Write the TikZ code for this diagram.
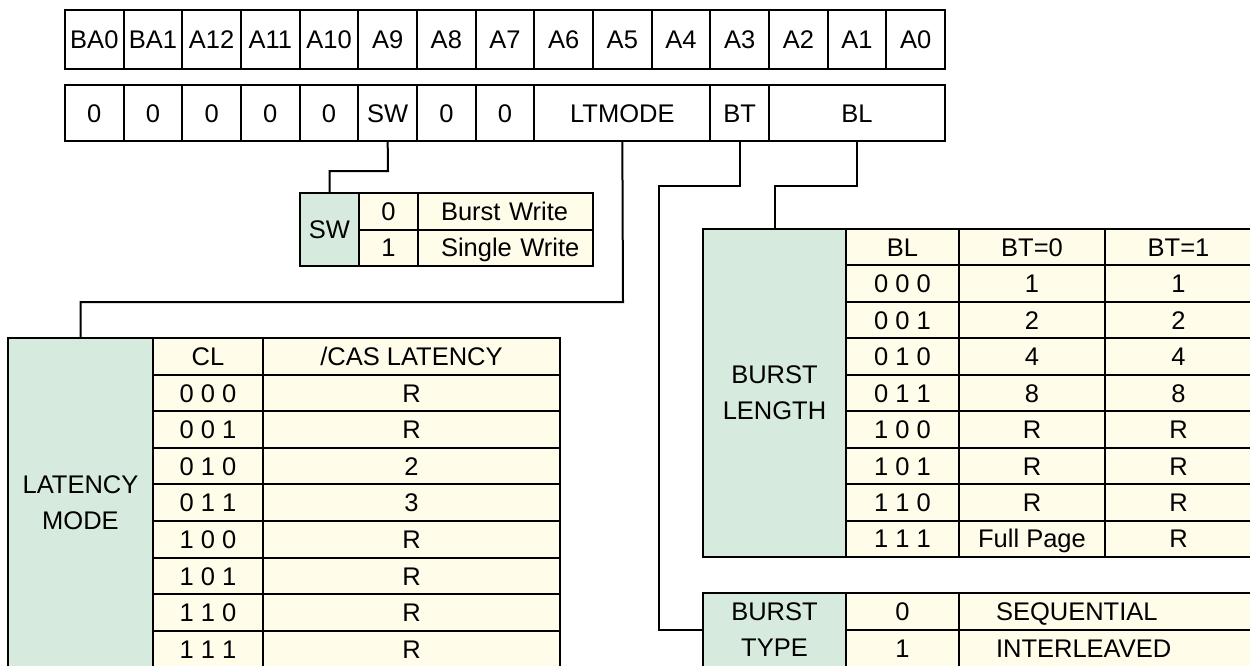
\documentclass[tikz,border=0pt]{standalone}
\usepackage{fontspec}
\setmainfont{Liberation Sans}
\definecolor{mgreen}{RGB}{214,234,221}
\definecolor{myellow}{RGB}{255,252,234}
\newcommand\cellbox[7]{%
  \node[#6, minimum width={(#4)-(#2)}, minimum height={(#5)-(#3)}] (#1)
    at ({((#2)+(#4))/2},{((#3)+(#5))/2}) {#7};}
\tikzset{
  basecell/.style={draw=black, line width=2pt, inner sep=0pt, outer sep=0pt,
    font=\fontsize{25.5}{36}\selectfont},
  cell/.style={basecell, fill=white, text height=18.3pt, text depth=0pt},
  ycell/.style={basecell, fill=myellow, text height=18.3pt, text depth=0pt},
  gcell/.style={basecell, fill=mgreen, align=center},
  link/.style={draw=black, line width=2pt},
}
\begin{document}
\begin{tikzpicture}[x=1pt, y=-1pt]
\useasboundingbox (0,0) rectangle (1250,665);
\clip (0,0) rectangle (1250,665);
\fill[white] (0,0) rectangle (1250,665);
% top row: address bits
\foreach \t [count=\i from 0] in {BA0,BA1,A12,A11,A10,A9,A8,A7,A6,A5,A4,A3,A2,A1,A0}{
  \cellbox{ra\i}{65+\i*58.667}{10}{65+(\i+1)*58.667}{69}{cell}{\t}
}
% second row: fields
\foreach \i in {0,...,4}{
  \cellbox{rb\i}{65+\i*58.667}{85}{65+(\i+1)*58.667}{141}{cell}{0}
}
\cellbox{rbsw}{358.33}{85}{417}{141}{cell}{SW}
\cellbox{rb7}{417}{85}{475.67}{141}{cell}{0}
\cellbox{rb8}{475.67}{85}{534.33}{141}{cell}{0}
\cellbox{rblt}{534.33}{85}{710.33}{141}{cell}{LTMODE}
\cellbox{rbbt}{710.33}{85}{769}{141}{cell}{BT}
\cellbox{rbbl}{769}{85}{945}{141}{cell}{BL}
% SW table
\cellbox{swg}{300}{193}{359}{266}{gcell}{SW}
\cellbox{swa}{359}{193}{418}{229.5}{ycell}{0}
\cellbox{swb}{359}{229.5}{418}{266}{ycell}{1}
\node[ycell, minimum width=175pt, minimum height=36.5pt, text width=175pt, align=left]
  (swc) at (505.5,211.25) {\hspace*{23pt}Burst Write};
\node[ycell, minimum width=175pt, minimum height=36.5pt, text width=175pt, align=left]
  (swd) at (505.5,247.75) {\hspace*{23pt}Single Write};
% latency table
\cellbox{latg}{8}{338}{153}{667.4}{gcell}{LATENCY\\MODE}
\cellbox{lath1}{153}{338}{263}{374.6}{ycell}{CL}
\cellbox{lath2}{263}{338}{560}{374.6}{ycell}{/CAS LATENCY}
\foreach \a/\b [count=\k from 1] in {0 0 0/R,0 0 1/R,0 1 0/2,0 1 1/3,1 0 0/R,1 0 1/R,1 1 0/R,1 1 1/R}{
  \cellbox{latc\k}{153}{338+\k*36.6}{263}{338+(\k+1)*36.6}{ycell}{\a}
  \cellbox{latv\k}{263}{338+\k*36.6}{560}{338+(\k+1)*36.6}{ycell}{\b}
}
% burst length table
\cellbox{blg}{703}{229}{846}{557}{gcell}{BURST\\LENGTH}
\cellbox{blh1}{846}{229}{959}{265.44}{ycell}{BL}
\cellbox{blh2}{959}{229}{1105}{265.44}{ycell}{BT=0}
\cellbox{blh3}{1105}{229}{1252}{265.44}{ycell}{BT=1}
\foreach \a/\b/\c [count=\k from 1] in {0 0 0/1/1,0 0 1/2/2,0 1 0/4/4,0 1 1/8/8,1 0 0/R/R,1 0 1/R/R,1 1 0/R/R,1 1 1/Full Page/R}{
  \cellbox{blc\k}{846}{229+\k*36.44}{959}{229+(\k+1)*36.44}{ycell}{\a}
  \cellbox{blv\k}{959}{229+\k*36.44}{1105}{229+(\k+1)*36.44}{ycell}{\b}
  \cellbox{blw\k}{1105}{229+\k*36.44}{1252}{229+(\k+1)*36.44}{ycell}{\c}
}
% burst type table
\cellbox{btg}{703}{593}{846}{667}{gcell}{BURST\\TYPE}
\cellbox{bta}{846}{593}{959}{630}{ycell}{0}
\cellbox{btb}{846}{630}{959}{667}{ycell}{1}
\node[ycell, minimum width=293pt, minimum height=37pt, text width=293pt, align=left]
  (btc) at (1105.5,611.5) {\hspace*{37pt}SEQUENTIAL};
\node[ycell, minimum width=293pt, minimum height=37pt, text width=293pt, align=left]
  (btd) at (1105.5,648.5) {\hspace*{37pt}INTERLEAVED};
% connectors
\coordinate (swk) at (388,171);
\coordinate (ltk) at (623,302);
\coordinate (btk) at (659,186);
\coordinate (blk) at (857,186);
\draw[link] (rbsw.south) -- (swk) -| (swg.north);
\draw[link] (rblt.south) -- (ltk) -| (latg.north);
\draw[link] (rbbt.south) |- (btk) |- (btg.west);
\draw[link] (rbbl.south) -- (blk) -| (blg.north);
\end{tikzpicture}
\end{document}
